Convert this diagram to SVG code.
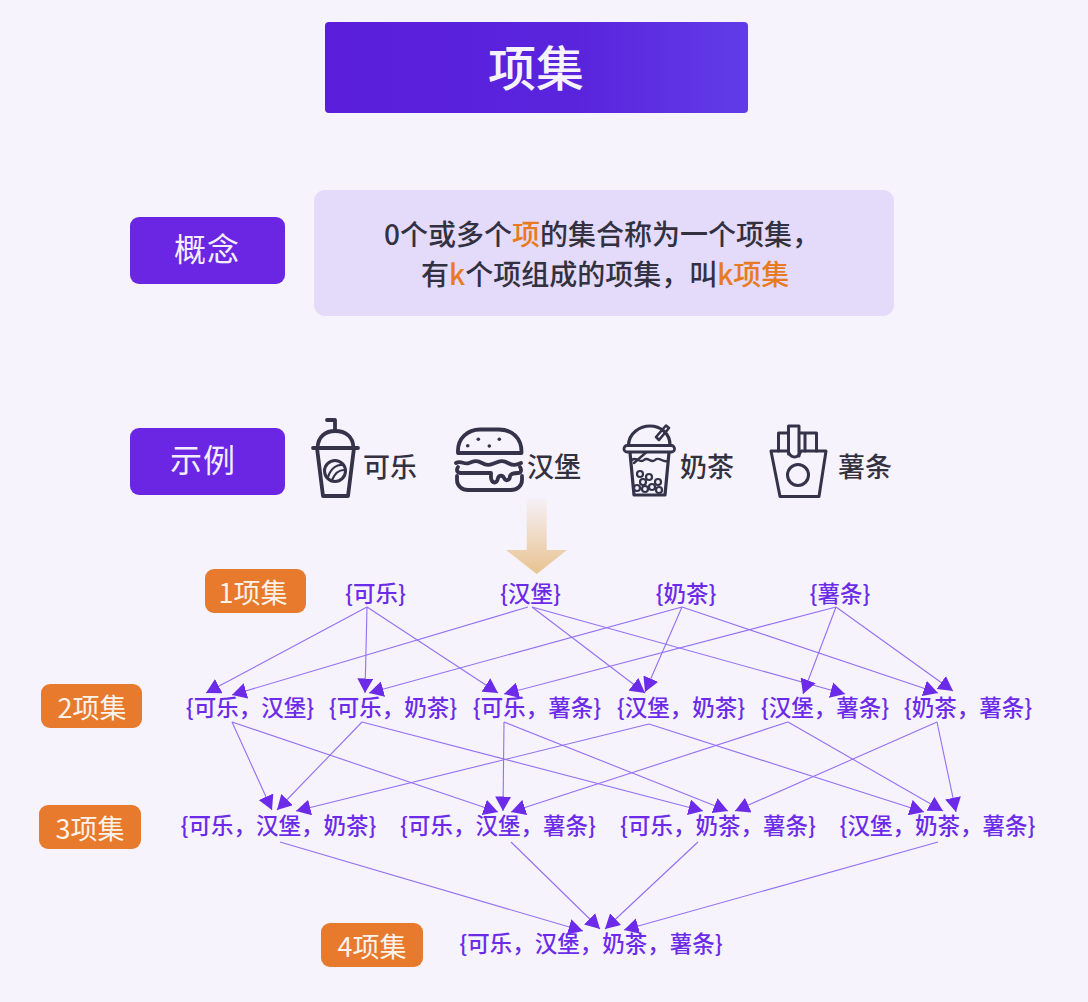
<svg xmlns="http://www.w3.org/2000/svg" width="1088" height="1002" viewBox="0 0 1088 1002">
<style>
text{font-family:"Noto Sans CJK SC","Noto Sans",sans-serif;font-weight:500}
.item{font-size:22.5px;fill:#6b2be8;text-anchor:middle}
.lv{font-size:27px;fill:#fbf3ea;text-anchor:middle;font-weight:400}
.sec{font-size:32px;fill:#f3eefe;text-anchor:middle;font-weight:400}
.nm{font-size:27px;fill:#33313f}
.body{font-size:28px;fill:#33313f}
.hl{fill:#e87a22}
.orange{fill:#e77a2d}
.purple{fill:#6b26e4}
.ic{fill:none;stroke:#35334a;stroke-width:3.8;stroke-linecap:round;stroke-linejoin:round}
#edges line{stroke:#9470f2;stroke-width:1.100;marker-end:url(#ah)}
</style>
<defs>
<linearGradient id="tg" x1="0" x2="1" y1="0" y2="0"><stop offset="0" stop-color="#5a1edb"/><stop offset="0.6" stop-color="#5a24dd"/><stop offset="1" stop-color="#623ce8"/></linearGradient>
<linearGradient id="ag" gradientUnits="userSpaceOnUse" x1="0" x2="0" y1="498" y2="574"><stop offset="0" stop-color="#f6f1f8"/><stop offset="1" stop-color="#e8c390"/></linearGradient>
<marker id="ah" markerUnits="userSpaceOnUse" markerWidth="16" markerHeight="16" viewBox="0 0 16 16" refX="14.500" refY="8" orient="auto"><path d="M0 0L14.500 8L0 16Z" fill="#6b2be8"/></marker>
</defs>
<rect width="1088" height="1002" fill="#f6f3fd"/>
<g id="title"><rect x="325" y="22" width="423" height="91" rx="4" fill="url(#tg)"/><text x="536" y="86" font-size="48" fill="#f6f3fd" text-anchor="middle">项集</text></g>
<g id="concept-label"><rect x="130" y="217" width="155" height="67" rx="9" class="purple"/><text x="207" y="261" class="sec" letter-spacing="1">概念</text></g>
<g id="concept-body"><rect x="314" y="190" width="580" height="126" rx="11" fill="#e3dbf9"/>
<text x="384" y="245" class="body">0个或多个<tspan class="hl">项</tspan>的集合称为一个项集，</text>
<text x="421" y="285" class="body">有<tspan class="hl">k</tspan>个项组成的项集，叫<tspan class="hl">k项集</tspan></text></g>
<g id="example-label"><rect x="130" y="428" width="155" height="67" rx="9" class="purple"/><text x="203" y="472" class="sec" letter-spacing="1">示例</text></g>
<g id="cola"><g class="ic"><path d="M327 420H335V431"/><path d="M317.500 448C318 436 326 431 335 431C345 431 353 436 353.500 448"/><path d="M313 448H358"/><path d="M317 448L323 496H348L354 448"/><circle cx="335" cy="471" r="10.500" stroke-width="3"/><path d="M328 477C331 468 337 464 343 465M332 480C335 473 339 470 344 470" stroke-width="2.200"/></g><text x="363" y="477" class="nm">可乐</text></g>
<g id="burger"><g class="ic"><path d="M458 453C457 438 468 429.500 480 429.500H499C512 429.500 522 438 521.500 453Z"/><path d="M456 463C461 460 464 465 469 463S477 460 482 463S490 465 495 463S503 460 508 463S516 465 521 463"/><path d="M458 467C456 470 457 473 461 473H491V478C492 484 497 484 498 478C499 475 503 475 504 478C506 482 510 480 510 476C511 473 516 473 518 473C521 473 522 470 520 467"/><path d="M457 476V480C457 486 462 490 468 490H511C517 490 522 486 522 480V476"/></g><g fill="#35334a"><circle cx="467.700" cy="445.700" r="1.800"/><circle cx="478.300" cy="439.300" r="1.800"/><circle cx="489.300" cy="446" r="1.800"/><circle cx="499.300" cy="439.300" r="1.800"/></g><text x="527" y="477" class="nm">汉堡</text></g>
<g id="milktea"><g class="ic"><path d="M628.500 445C629 433 640 426 650 426C660 426 670 433 670 445" stroke-width="3.200"/><rect x="624" y="445.500" width="50.500" height="6.500" rx="3" stroke-width="2.800"/><path d="M656 437L666 425.500L669 428L659 440Z" stroke-width="2.600"/><path d="M630 452.500L634 495H665L669 452.500" stroke-width="3.200"/><path d="M632 460C636 456 640 464 644 460C648 456 651 464 655 460C659 456 663 463 667 461" stroke-width="2.400"/><path d="M634 463L646 452.500" stroke-width="2.400"/></g><g fill="none" stroke="#35334a" stroke-width="2.200"><circle cx="640" cy="474" r="3"/><circle cx="649" cy="477" r="3"/><circle cx="643" cy="482" r="3"/><circle cx="658" cy="482" r="3"/><circle cx="637" cy="488" r="3"/><circle cx="645" cy="489" r="3"/><circle cx="652" cy="487" r="3"/><circle cx="659" cy="490" r="3"/></g><text x="680" y="477" class="nm">奶茶</text></g>
<g id="fries"><g class="ic"><path d="M771 451H788C791 459 798 459 801 451H826L819 496.500H780Z" stroke-width="3"/><path d="M778.500 451V433H788.500M788.500 454V426H799V456M805 451V433H816.500V451M799 433H805" stroke-width="3"/><circle cx="798" cy="475" r="10.500" stroke-width="3"/></g><text x="838" y="477" class="nm">薯条</text></g>
<g id="down-arrow"><path d="M526.700 498H546.700V550H567L536.700 574L506 550H526.700Z" fill="url(#ag)"/></g>
<g id="level1"><rect x="205" y="569" width="101" height="44" rx="9" class="orange"/><text x="253" y="603" class="lv">1项集</text></g>
<g id="level2"><rect x="41" y="684" width="101" height="44" rx="9" class="orange"/><text x="92" y="718" class="lv">2项集</text></g>
<g id="level3"><rect x="39" y="805" width="102" height="44" rx="9" class="orange"/><text x="90" y="839" class="lv">3项集</text></g>
<g id="level4"><rect x="321" y="923" width="102" height="44" rx="9" class="orange"/><text x="372" y="957" class="lv">4项集</text></g>
<g id="s-a"><text x="375.500" y="602" class="item">{可乐}</text></g>
<g id="s-b"><text x="530.500" y="602" class="item">{汉堡}</text></g>
<g id="s-c"><text x="686" y="602" class="item">{奶茶}</text></g>
<g id="s-d"><text x="840" y="602" class="item">{薯条}</text></g>
<g id="s-ab"><text x="250" y="716" class="item">{可乐，汉堡}</text></g>
<g id="s-ac"><text x="393" y="716" class="item">{可乐，奶茶}</text></g>
<g id="s-ad"><text x="537" y="716" class="item">{可乐，薯条}</text></g>
<g id="s-bc"><text x="681" y="716" class="item">{汉堡，奶茶}</text></g>
<g id="s-bd"><text x="825" y="716" class="item">{汉堡，薯条}</text></g>
<g id="s-cd"><text x="968" y="716" class="item">{奶茶，薯条}</text></g>
<g id="s-abc"><text x="278.500" y="834" class="item">{可乐，汉堡，奶茶}</text></g>
<g id="s-abd"><text x="498" y="834" class="item">{可乐，汉堡，薯条}</text></g>
<g id="s-acd"><text x="718" y="834" class="item">{可乐，奶茶，薯条}</text></g>
<g id="s-bcd"><text x="937.500" y="834" class="item">{汉堡，奶茶，薯条}</text></g>
<g id="s-abcd"><text x="591" y="952" class="item">{可乐，汉堡，奶茶，薯条}</text></g>
<g id="edges">
<line x1="367" y1="607" x2="206" y2="693"/>
<line x1="367" y1="607" x2="365" y2="693"/>
<line x1="367" y1="607" x2="498" y2="693"/>
<line x1="528" y1="607" x2="232" y2="695"/>
<line x1="532" y1="607" x2="645" y2="693"/>
<line x1="532" y1="607" x2="845" y2="694"/>
<line x1="682" y1="607" x2="369" y2="693"/>
<line x1="682" y1="607" x2="645" y2="692"/>
<line x1="682" y1="607" x2="938" y2="693"/>
<line x1="836" y1="607" x2="504" y2="694"/>
<line x1="836" y1="607" x2="803" y2="694"/>
<line x1="836" y1="607" x2="953" y2="691"/>
<line x1="232" y1="722" x2="272" y2="810"/>
<line x1="232" y1="722" x2="498" y2="812"/>
<line x1="362" y1="722" x2="277" y2="810"/>
<line x1="362" y1="722" x2="703" y2="811"/>
<line x1="504" y1="722" x2="503" y2="811"/>
<line x1="504" y1="722" x2="728" y2="811"/>
<line x1="649" y1="724" x2="296" y2="811"/>
<line x1="649" y1="724" x2="924" y2="812"/>
<line x1="788" y1="722" x2="511" y2="812"/>
<line x1="788" y1="722" x2="943" y2="811"/>
<line x1="937" y1="722" x2="735" y2="811"/>
<line x1="937" y1="722" x2="956" y2="812"/>
<line x1="280" y1="842" x2="583" y2="931"/>
<line x1="511" y1="842" x2="600" y2="929"/>
<line x1="698" y1="842" x2="605" y2="929"/>
<line x1="938" y1="842" x2="624" y2="930"/>
</g>
</svg>
